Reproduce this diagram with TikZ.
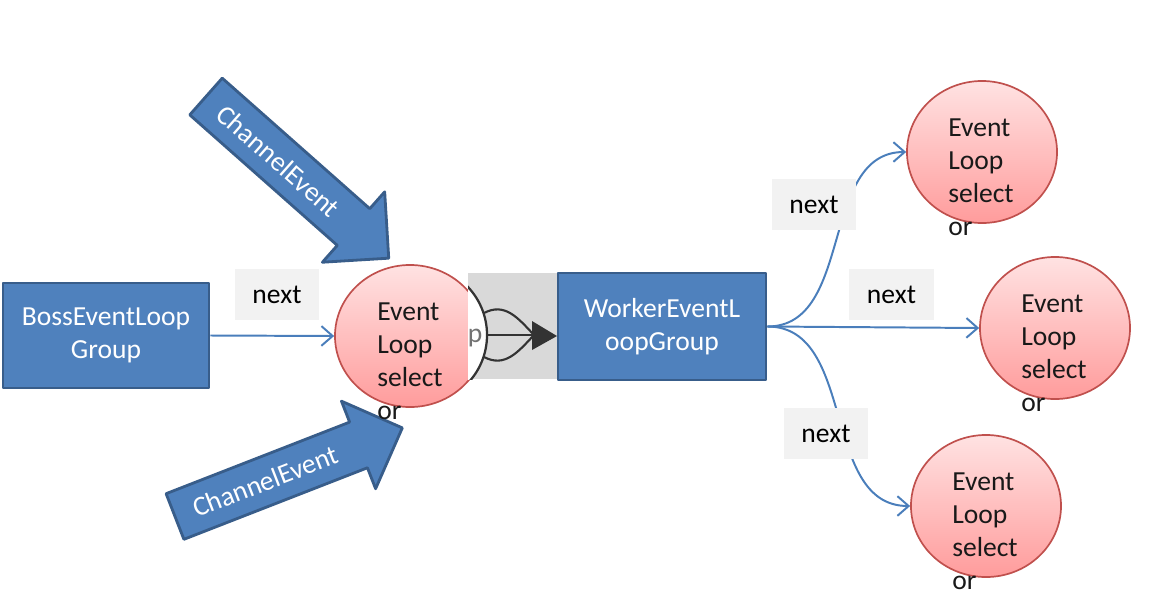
\documentclass[tikz,border=0pt]{standalone}
\usepackage{fontspec}
\setmainfont{Carlito}
\usetikzlibrary{arrows.meta,shapes.geometric,positioning}
\definecolor{boxblue}{HTML}{4F81BD}
\definecolor{boxedge}{HTML}{385D8A}
\definecolor{linkblue}{HTML}{4A7EBB}
\definecolor{looptop}{HTML}{FFE2E2}
\definecolor{loopbot}{HTML}{FF9C9C}
\definecolor{loopedge}{HTML}{C0504D}
\definecolor{lblgray}{HTML}{F2F2F2}
\definecolor{insetgray}{HTML}{D9D9D9}
\definecolor{inkdark}{HTML}{333333}
\begin{document}
\begin{tikzpicture}[x=0.025cm, y=-0.025cm,
  font=\fontsize{19.6}{23.4}\selectfont, line join=round,
  bluebox/.style={draw=boxedge, fill=boxblue, line width=2pt, text=white, align=center, inner sep=0pt},
  loopnode/.style={ellipse, draw=loopedge, line width=1.2pt, top color=looptop, bottom color=loopbot,
    minimum width=3.75cm, minimum height=3.55cm, inner sep=0pt},
  looptext/.style={align=left, inner sep=0pt, anchor=north west, text=black!90},
  lbl/.style={fill=lblgray, minimum width=2.1cm, minimum height=1.275cm, inner sep=0pt},
  link/.style={draw=linkblue, line width=1.4pt, -{Straight Barb[length=8pt,width=14pt]}},
  bigarrow/.style={draw=boxedge, fill=boxblue, line width=2pt},
  chtext/.style={text=white, inner sep=0pt}]
  \useasboundingbox (0,0) rectangle (1152,600);

  % groups
  \node[bluebox, minimum width=5.15cm, minimum height=2.625cm] (boss) at (106,335.5) {BossEventLoop\\Group};
  \node[bluebox, minimum width=5.2cm, minimum height=2.675cm] (worker) at (662,326.5) {WorkerEventL\\oopGroup};

  % event loops
  \node[loopnode] (c0) at (410,336) {};
  \node[loopnode] (c1) at (982,152) {};
  \node[loopnode] (c2) at (1055,328) {};
  \node[loopnode] (c3) at (986,506) {};

  % next links
  \draw[link] (boss.east) -- (c0.west);
  \draw[link] (worker.east) to[out=0, in=180] (c1.west);
  \draw[link] (worker.east) -- (c2.west);
  \draw[link] (worker.east) to[out=0, in=180] (c3.west);

  \node[lbl] (n1) at (277,294.5) {next};
  \node[lbl] (n2) at (814,204.5) {next};
  \node[lbl] (n3) at (891.5,294.5) {next};
  \node[lbl] (n4) at (826,433.5) {next};

  % small picture between loop and worker group
  \fill[insetgray] (468,273) rectangle (557,379);
  \begin{scope}
    \clip (468,273) rectangle (557,379);
    \draw[draw=inkdark, fill=white, line width=1.6pt] (417,335) circle[radius=1.75cm];
    \node[text=black!55, inner sep=0pt] (p) at (475,338) {p};
  \end{scope}
  \draw[inkdark, line width=1.5pt] (484,313) .. controls (505,302) and (518,318) .. (534,335);
  \draw[inkdark, line width=1.5pt] (487,335) -- (534,335);
  \draw[inkdark, line width=1.5pt] (484,357) .. controls (505,368) and (518,352) .. (534,335);
  \fill[inkdark] (532,321) -- (557,336) -- (532,350) -- cycle;

  % ChannelEvent arrows
  \begin{scope}[shift={(206,96.5)}, rotate=-41.5]
    \draw[bigarrow] (0,-24.5) -- (197,-24.5) -- (197,-47) -- (244,0) -- (197,47) -- (197,24.5) -- (0,24.5) -- cycle;
    \node[chtext, rotate=-41.5] (ch1) at (97,0) {ChannelEvent};
  \end{scope}
  \begin{scope}[shift={(175,516.5)}, rotate=21.3]
    \draw[bigarrow] (0,-24.5) -- (197,-24.5) -- (197,-47) -- (244,0) -- (197,47) -- (197,24.5) -- (0,24.5) -- cycle;
    \node[chtext, rotate=21.3] (ch2) at (97,0) {ChannelEvent};
  \end{scope}

  % loop texts (run out of the circles)
  \node[looptext] (t0) at ([shift={(-33,-33)}]c0.center) {Event\\Loop\\select\\or};
  \node[looptext] (t1) at ([shift={(-34,-33)}]c1.center) {Event\\Loop\\select\\or};
  \node[looptext] (t2) at ([shift={(-34,-33)}]c2.center) {Event\\Loop\\select\\or};
  \node[looptext] (t3) at ([shift={(-34,-33)}]c3.center) {Event\\Loop\\select\\or};
\end{tikzpicture}
\end{document}
